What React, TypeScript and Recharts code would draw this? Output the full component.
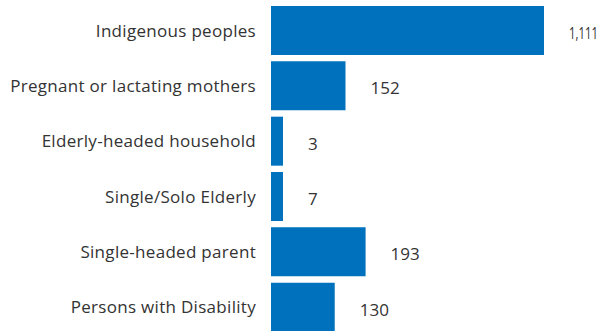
import React from 'react';
import { BarChart, Bar, XAxis, YAxis, LabelList } from 'recharts';

const groups = [
  'Indigenous peoples',
  'Pregnant or lactating mothers',
  'Elderly-headed household',
  'Single/Solo Elderly',
  'Single-headed parent',
  'Persons with Disability',
];
const counts = [1111, 152, 3, 7, 193, 130];

const data = groups.map((name, i) => ({ name, count: counts[i] }));

const BLUE = '#0071bc';
const TEXT = '#333333';
const FONT = '"Open Sans", Lato, sans-serif';
const CHART_W = 605;
const PLOT_RIGHT = 544;

// value label to the right of the bar; squeezed when it would run off the edge
const ValueLabel = (props: any) => {
  const { x, y, width, height, value } = props;
  const end = Math.min(Number(x) + Number(width), PLOT_RIGHT);
  const str = Number(value).toLocaleString('en-US');
  const lx = end + 25;
  const room = CHART_W - lx - 7;
  const tooWide = str.length * 0.56 * 17 > room;
  return (
    <text
      x={lx}
      y={Number(y) + Number(height) / 2}
      dy="0.5em"
      fill={TEXT}
      fontSize={tooWide ? 16 : 17}
      fontFamily={FONT}
      textAnchor="start"
      {...(tooWide ? { textLength: room, lengthAdjust: 'spacingAndGlyphs' } : {})}
    >
      {str}
    </text>
  );
};

export default function App() {
  return (
    <div style={{ position: 'absolute', left: 0, top: 0, width: 605, height: 331, overflow: 'hidden', background: '#fff' }}>
      <BarChart
        width={CHART_W}
        height={336}
        data={data}
        layout="vertical"
        margin={{ top: 3, right: CHART_W - PLOT_RIGHT, left: 0, bottom: 1 }}
        barCategoryGap={3}
      >
        <XAxis type="number" domain={[0, 557]} allowDataOverflow hide />
        <YAxis
          type="category"
          dataKey="name"
          width={271}
          axisLine={false}
          tickLine={false}
          tickSize={0}
          tickMargin={15}
          tick={{ fontSize: 17, fill: TEXT, fontFamily: FONT, letterSpacing: 0.3 }}
        />
        <Bar dataKey="count" fill={BLUE} minPointSize={12} isAnimationActive={false}>
          <LabelList dataKey="count" content={<ValueLabel />} />
        </Bar>
      </BarChart>
    </div>
  );
}
